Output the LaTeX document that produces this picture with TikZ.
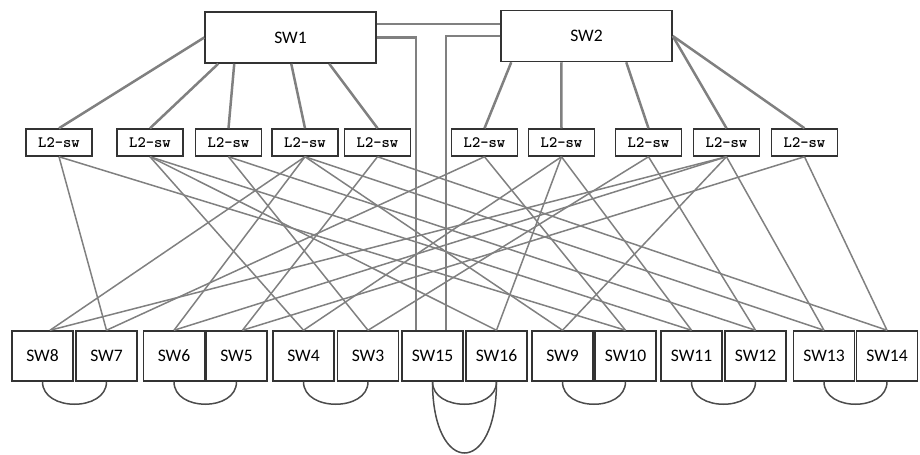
\documentclass[tikz,border=0pt]{standalone}
\usepackage{fontspec}
\newfontfamily\swfont{Carlito}
\begin{document}
\begin{tikzpicture}[x=0.2mm, y=-0.2mm,
    core/.style={draw=black!80, line width=0.3mm, fill=white, rectangle, inner sep=0pt,
        minimum width=34.2mm, minimum height=10.2mm, font=\swfont\fontsize{10}{12}\selectfont},
    l2/.style={draw=black!80, line width=0.3mm, fill=white, rectangle, inner sep=0pt,
        minimum width=13.2mm, minimum height=5.4mm, font=\ttfamily\bfseries\fontsize{9}{10}\selectfont},
    edge/.style={draw=black!80, line width=0.3mm, fill=white, rectangle, inner sep=0pt,
        minimum width=12.2mm, minimum height=10mm, font=\swfont\fontsize{10}{12}\selectfont},
    uplink/.style={draw=black!50, line width=0.5mm},
    link/.style={draw=black!50, line width=0.3mm},
    pair/.style={draw=black!70, line width=0.3mm}]
\useasboundingbox (0,0) rectangle (920,455);

% core switches and the links between them
\draw[uplink] (376,24) -- (501,24);
\node[core] (sw1) at (290.5,37.5) {SW1};
\node[core] (sw2) at (586.5,36) {SW2};

% L2 layer
\node[l2] (l2a) at (59,142.5) {L2-sw};
\node[l2] (l2b) at (150,142.5) {L2-sw};
\node[l2] (l2c) at (228.5,142.5) {L2-sw};
\node[l2] (l2d) at (305,142.5) {L2-sw};
\node[l2] (l2e) at (377.5,142.5) {L2-sw};
\node[l2] (l2f) at (484.5,142.5) {L2-sw};
\node[l2] (l2g) at (561.5,142.5) {L2-sw};
\node[l2] (l2h) at (648.5,142.5) {L2-sw};
\node[l2] (l2i) at (726.5,142.5) {L2-sw};
\node[l2] (l2j) at (804.5,142.5) {L2-sw};

% edge switches
\foreach \n/\x in {8/42.5, 7/106.5, 6/174, 5/236.5, 4/303.5, 3/368, 15/432.5,
    16/496.5, 9/562.5, 10/625.5, 11/691.5, 12/755.5, 13/824, 14/887}
    \node[edge] (sw\n) at (\x,356) {SW\n};

% core to L2
\draw[uplink] (sw1.west) -- (l2a.north);
\draw[uplink] (sw1.south west) ++(14,0) -- (l2b.north);
\draw[uplink] (sw1.south west) ++(30,0) -- (l2c.north);
\draw[uplink] (sw1.south west) ++(87,0) -- (l2d.north);
\draw[uplink] (sw1.south west) ++(125,0) -- (l2e.north);
\draw[uplink] (sw2.south west) ++(11,0) -- (l2f.north);
\draw[uplink] (sw2.south west) ++(61,0) -- (l2g.north);
\draw[uplink] (sw2.south west) ++(126,0) -- (l2h.north);
\draw[uplink] (sw2.east) -- (l2i.north);
\draw[uplink] (sw2.east) -- (l2j.north);

% core straight down to SW15
\draw[uplink] (sw1.east) -| ([xshift=-3.3mm]sw15.north);
\draw[uplink] (sw2.west) -| ([xshift=2.7mm]sw15.north);

% L2 to edge, each L2 pair serves the same edge switches
\foreach \sw in {7,10} {
    \draw[link] (l2a.south) -- (sw\sw.north);
    \draw[link] (l2f.south) -- (sw\sw.north);
}
\foreach \sw in {4,16,11} {
    \draw[link] (l2b.south) -- (sw\sw.north);
    \draw[link] (l2g.south) -- (sw\sw.north);
}
\foreach \sw in {3,12} {
    \draw[link] (l2c.south) -- (sw\sw.north);
    \draw[link] (l2h.south) -- (sw\sw.north);
}
\foreach \sw in {6,9,13} {
    \draw[link] (l2d.south) -- (sw\sw.north);
    \draw[link] (l2i.south) -- (sw\sw.north);
}
\draw[link] (l2d.south) -- ([xshift=1.5mm]sw8.north);
\draw[link] (l2i.south) -- ([xshift=1.5mm]sw8.north);
\draw[link] (l2e.south) -- ([xshift=1.2mm]sw5.north);
\draw[link] (l2j.south) -- ([xshift=1.2mm]sw5.north);
\draw[link] (l2e.south) -- (sw14.north);
\draw[link] (l2j.south) -- (sw14.north);

% pair loops under the edge switches
\draw[pair] (sw8.south) .. controls +(0,30) and +(0,30) .. (sw7.south);
\draw[pair] (sw6.south) .. controls +(0,30) and +(0,30) .. (sw5.south);
\draw[pair] (sw4.south) .. controls +(0,30) and +(0,30) .. (sw3.south);
\draw[pair] (sw15.south) .. controls +(0,30) and +(0,30) .. (sw16.south);
\draw[pair] (sw15.south) .. controls +(0,95) and +(0,95) .. (sw16.south);
\draw[pair] (sw9.south) .. controls +(0,30) and +(0,30) .. (sw10.south);
\draw[pair] (sw11.south) .. controls +(0,30) and +(0,30) .. (sw12.south);
\draw[pair] (sw13.south) .. controls +(0,30) and +(0,30) .. (sw14.south);
\end{tikzpicture}
\end{document}
